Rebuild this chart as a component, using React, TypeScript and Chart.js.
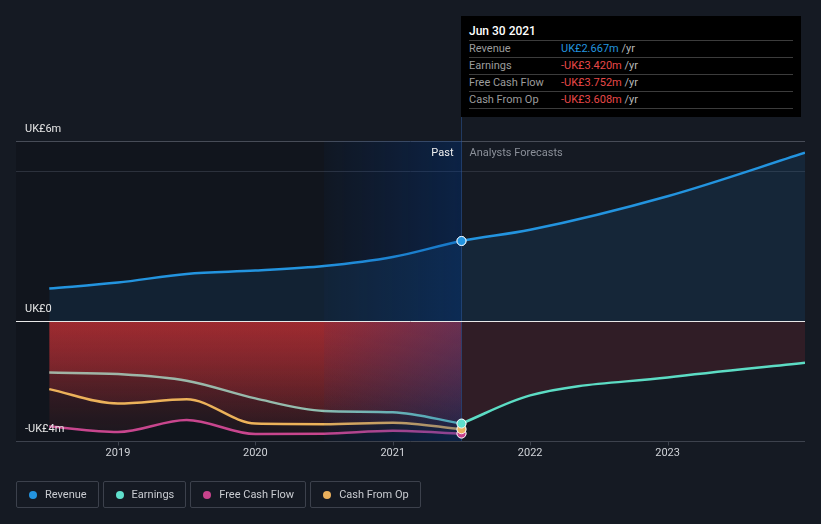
import React, { useEffect, useRef } from 'react';
import { Chart, registerables } from 'chart.js';

Chart.register(...registerables);

// ---- data ----
const pastYears = [2018.5, 2019, 2019.5, 2020, 2020.5, 2021, 2021.5];
const forecastYears = [2021.5, 2022, 2023, 2024];
const revenuePast = [1.08, 1.28, 1.57, 1.68, 1.83, 2.13, 2.667];
const revenueForecast = [2.667, 3.04, 4.16, 5.61];
const earningsPast = [-1.72, -1.77, -1.99, -2.58, -3.0, -3.04, -3.42];
const earningsForecast = [-3.42, -2.48, -1.88, -1.39];
const fcfPast = [-3.52, -3.7, -3.3, -3.77, -3.76, -3.66, -3.752];
const cfoPast = [-2.27, -2.75, -2.61, -3.42, -3.44, -3.39, -3.608];
const xTickYears = [2019, 2020, 2021, 2022, 2023];
const yLabelValues = [6, 0, -4];
const yLabelTexts = ['UK£6m', 'UK£0', '-UK£4m'];
const seriesNames = ['Revenue', 'Earnings', 'Free Cash Flow', 'Cash From Op'];
const seriesColors = ['#2394df', '#5fe0cc', '#c8438c', '#eab05c'];
const tooltipTitle = 'Jun 30 2021';
const highlightStart = 2020.5;
const nowYear = 2021.5;
const xMin = 2018.258;
const xMax = 2024.0;
const yMin = -4;
const yMax = 6;

const BG = '#151a23';
const FONT = 'Roboto, "Noto Sans", sans-serif';

const fmt = (v: number) => (v < 0 ? '-' : '') + 'UK£' + Math.abs(v).toFixed(3) + 'm';
const lastOf = (a: number[]) => a[a.length - 1];
const tooltipValues = [lastOf(revenuePast), lastOf(earningsPast), lastOf(fcfPast), lastOf(cfoPast)];

const pts = (xs: number[], ys: number[]) => xs.map((x, i) => ({ x, y: ys[i] }));

export default function App() {
  const ref = useRef<HTMLCanvasElement>(null);

  useEffect(() => {
    document.body.style.margin = '0';
    document.body.style.background = BG;
    const canvas = ref.current!;
    const lastPast = pastYears.length - 1;

    const redFill = (c: any) => {
      const chart = c.chart;
      if (!chart.chartArea) return 'rgba(205,50,55,0.2)';
      const y = chart.scales.y;
      const g = chart.ctx.createLinearGradient(0, y.getPixelForValue(0), 0, y.getPixelForValue(-4));
      g.addColorStop(0, 'rgba(205,50,55,0.37)');
      g.addColorStop(1, 'rgba(205,50,55,0.04)');
      return g;
    };
    const earnStroke = (c: any) => {
      const chart = c.chart;
      if (!chart.chartArea) return '#9fb4a6';
      const x = chart.scales.x;
      const g = chart.ctx.createLinearGradient(x.getPixelForValue(pastYears[0]), 0, x.getPixelForValue(nowYear), 0);
      g.addColorStop(0, '#a2b3a4');
      g.addColorStop(0.6, '#95bcae');
      g.addColorStop(1, '#72d6c8');
      return g;
    };
    const markerRadius = (c: any) => (c.dataIndex === lastPast ? 4.5 : 0);

    const plugin = {
      id: 'decor',
      beforeDatasetsDraw(chart: any) {
        const { ctx, chartArea: a, scales } = chart;
        const x = scales.x;
        const y = scales.y;
        const xNow = x.getPixelForValue(nowYear);
        ctx.save();
        ctx.fillStyle = 'rgba(0,0,0,0.16)';
        ctx.fillRect(a.left, a.top, xNow - a.left, a.bottom - a.top);
        const g6 = Math.round(y.getPixelForValue(6)) + 0.5;
        const g5 = Math.round(y.getPixelForValue(5)) + 0.5;
        ctx.lineWidth = 1;
        ctx.strokeStyle = '#474c57';
        ctx.beginPath();
        ctx.moveTo(a.left, g6);
        ctx.lineTo(a.right, g6);
        ctx.stroke();
        ctx.strokeStyle = '#2c313c';
        ctx.beginPath();
        ctx.moveTo(a.left, g5);
        ctx.lineTo(a.right, g5);
        ctx.stroke();
        ctx.restore();
      },
      afterDatasetsDraw(chart: any) {
        const { ctx, chartArea: a, scales } = chart;
        const x = scales.x;
        const y = scales.y;
        const xNow = x.getPixelForValue(nowYear);
        const xH = x.getPixelForValue(highlightStart);
        ctx.save();
        const hg = ctx.createLinearGradient(xH, 0, xNow, 0);
        hg.addColorStop(0, 'rgba(0,60,150,0.05)');
        hg.addColorStop(1, 'rgba(0,60,150,0.33)');
        ctx.fillStyle = hg;
        ctx.fillRect(xH, a.top, xNow - xH, a.bottom - a.top);
        ctx.strokeStyle = 'rgba(45,90,160,0.5)';
        ctx.lineWidth = 1;
        ctx.beginPath();
        ctx.moveTo(Math.round(xNow) + 0.5, 16);
        ctx.lineTo(Math.round(xNow) + 0.5, a.bottom);
        ctx.stroke();
        const y0 = Math.round(y.getPixelForValue(0)) + 0.5;
        ctx.strokeStyle = '#e8e8e8';
        ctx.beginPath();
        ctx.moveTo(a.left, y0);
        ctx.lineTo(a.right, y0);
        ctx.stroke();
        const yb = Math.round(a.bottom) + 0.5;
        ctx.strokeStyle = '#3d424d';
        ctx.beginPath();
        ctx.moveTo(a.left, yb);
        ctx.lineTo(a.right, yb);
        xTickYears.forEach((t) => {
          const px = Math.round(x.getPixelForValue(t)) + 0.5;
          ctx.moveTo(px, yb);
          ctx.lineTo(px, yb + 4);
        });
        ctx.stroke();
        // redraw markers on top (bottom-most series first)
        for (let i = chart.data.datasets.length - 1; i >= 0; i--) {
          const meta = chart.getDatasetMeta(i);
          meta.data.forEach((el: any) => {
            if (el.options && el.options.radius > 0) el.draw(ctx, a);
          });
        }
        ctx.font = `11px ${FONT}`;
        ctx.textBaseline = 'middle';
        ctx.fillStyle = '#d0d3d8';
        ctx.textAlign = 'center';
        xTickYears.forEach((t) => {
          ctx.fillText(String(t), x.getPixelForValue(t), a.bottom + 12.5);
        });
        ctx.textAlign = 'left';
        ctx.fillStyle = '#e6e6e6';
        yLabelValues.forEach((v, i) => {
          ctx.fillText(yLabelTexts[i], a.left + 9, y.getPixelForValue(v) - 11.5);
        });
        const yHead = y.getPixelForValue(6) + 12;
        ctx.textAlign = 'right';
        ctx.fillStyle = '#f0f0f0';
        ctx.fillText('Past', xNow - 8, yHead);
        ctx.textAlign = 'left';
        ctx.fillStyle = '#8b9099';
        ctx.fillText('Analysts Forecasts', xNow + 8, yHead);
        ctx.restore();
      },
    };

    const chart = new Chart(canvas, {
      type: 'line',
      data: {
        datasets: [
          {
            label: 'Revenue',
            data: pts([...pastYears, ...forecastYears.slice(1)], [...revenuePast, ...revenueForecast.slice(1)]),
            borderColor: seriesColors[0],
            backgroundColor: 'rgba(33,150,243,0.1)',
            fill: 'origin',
            borderWidth: 2.5,
            pointRadius: markerRadius,
            pointBackgroundColor: seriesColors[0],
            pointBorderColor: 'rgba(255,255,255,0.9)',
            pointBorderWidth: 1,
          },
          {
            label: 'Earnings',
            data: pts(pastYears, earningsPast),
            borderColor: earnStroke,
            backgroundColor: redFill,
            fill: 'origin',
            borderWidth: 2.5,
            pointRadius: markerRadius,
            pointBackgroundColor: seriesColors[1],
            pointBorderColor: 'rgba(255,255,255,0.85)',
            pointBorderWidth: 1,
          },
          {
            label: 'Cash From Op',
            data: pts(pastYears, cfoPast),
            borderColor: '#ecb25a',
            backgroundColor: redFill,
            fill: 'origin',
            borderWidth: 2.5,
            pointRadius: markerRadius,
            pointBackgroundColor: seriesColors[3],
            pointBorderColor: 'rgba(255,255,255,0.85)',
            pointBorderWidth: 1,
          },
          {
            label: 'Free Cash Flow',
            data: pts(pastYears, fcfPast),
            borderColor: '#c8468e',
            backgroundColor: redFill,
            fill: 'origin',
            borderWidth: 2.5,
            pointRadius: markerRadius,
            pointBackgroundColor: seriesColors[2],
            pointBorderColor: 'rgba(255,255,255,0.85)',
            pointBorderWidth: 1,
          },
          {
            label: 'Earnings forecast',
            data: pts(forecastYears, earningsForecast),
            borderColor: '#5cdcc4',
            backgroundColor: 'rgba(205,50,60,0.15)',
            fill: 'origin',
            borderWidth: 2.5,
            pointRadius: 0,
          },
        ],
      },
      options: {
        responsive: false,
        maintainAspectRatio: false,
        devicePixelRatio: 1,
        animation: false,
        events: [],
        layout: { padding: { left: 16, right: 16, top: 141, bottom: 83 } },
        elements: { line: { cubicInterpolationMode: 'monotone' } },
        plugins: { legend: { display: false }, tooltip: { enabled: false } },
        scales: {
          x: { type: 'linear', min: xMin, max: xMax, display: false },
          y: { type: 'linear', min: yMin, max: yMax, display: false },
        },
      },
      plugins: [plugin],
    } as any);

    return () => chart.destroy();
  }, []);

  const rowTop = [24, 41, 58, 75];
  return (
    <div style={{ position: 'fixed', left: 0, top: 0, width: 821, height: 524, background: BG, fontFamily: FONT, overflow: 'hidden' }}>
      <canvas ref={ref} width={821} height={524} style={{ position: 'absolute', left: 0, top: 0, width: 821, height: 524 }} />
      <div style={{ position: 'absolute', left: 461, top: 16, width: 340, height: 101, background: '#000' }}>
        <div style={{ position: 'absolute', left: 8, top: 7, fontSize: 12, lineHeight: '16px', color: '#fff', fontWeight: 500 }}>{tooltipTitle}</div>
        {seriesNames.map((n, i) => (
          <React.Fragment key={n}>
            <div style={{ position: 'absolute', left: 8, top: rowTop[i], width: 324, height: 0, borderTop: '1px solid #3c3c3c' }} />
            <div style={{ position: 'absolute', left: 8, top: rowTop[i] + 1, height: 16, lineHeight: '16px', fontSize: 11, color: '#9c9c9c', whiteSpace: 'nowrap' }}>{n}</div>
            <div style={{ position: 'absolute', left: 100, top: rowTop[i] + 1, height: 16, lineHeight: '16px', fontSize: 11, whiteSpace: 'nowrap' }}>
              <span style={{ color: tooltipValues[i] < 0 ? '#e84848' : '#2394df' }}>{fmt(tooltipValues[i])}</span>
              <span style={{ color: '#b8b8b8' }}> /yr</span>
            </div>
          </React.Fragment>
        ))}
        <div style={{ position: 'absolute', left: 8, top: 92, width: 324, height: 0, borderTop: '1px solid #3c3c3c' }} />
      </div>
      <div style={{ position: 'absolute', left: 16, top: 481, display: 'flex', gap: 4 }}>
        {seriesNames.map((n, i) => (
          <div key={n} style={{ height: 25, border: '1px solid #3c414c', borderRadius: 2, display: 'flex', alignItems: 'center', padding: '0 11px 0 12px', boxSizing: 'content-box' }}>
            <span style={{ width: 8, height: 8, borderRadius: 4, background: seriesColors[i], marginRight: 8, display: 'inline-block' }} />
            <span style={{ fontSize: 11, color: '#c9ccd1', whiteSpace: 'nowrap' }}>{n}</span>
          </div>
        ))}
      </div>
    </div>
  );
}
